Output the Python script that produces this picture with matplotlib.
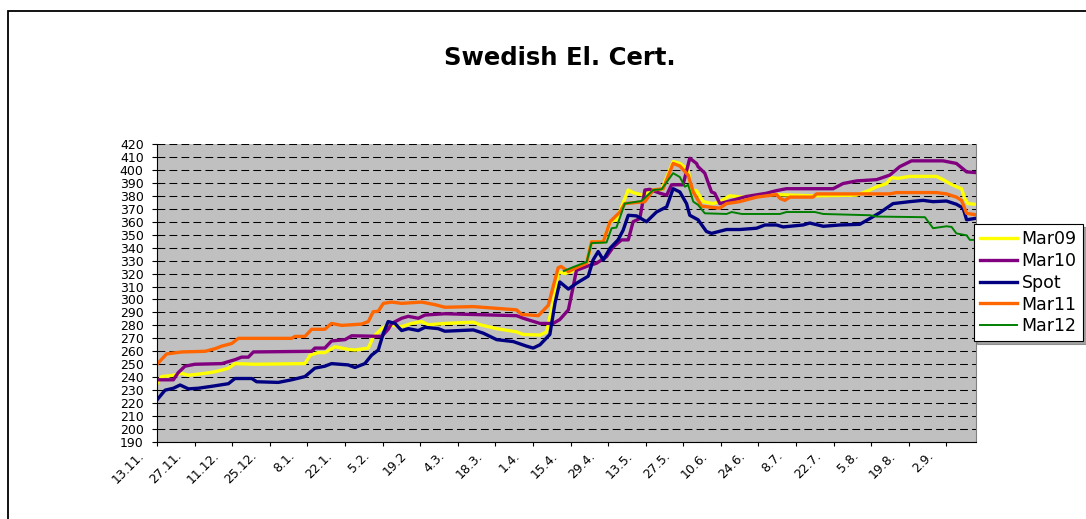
import numpy as np
import matplotlib
matplotlib.use('Agg')
import matplotlib.pyplot as plt
import matplotlib.transforms as mtransforms
from matplotlib.patches import Rectangle

#%% data - days counted from 13.11.2008
date_labels = ['13.11.', '27.11.', '11.12.', '25.12.', '8.1.', '22.1.', '5.2.', '19.2',
               '4.3.', '18.3.', '1.4.', '15.4.', '29.4.', '13.5.', '27.5.', '10.6.',
               '24.6.', '8.7.', '22.7.', '5.8.', '19.8.', '2.9.']
label_days = [14 * i for i in range(len(date_labels))]

mar09 = np.array([
    (0, 235), (1.7, 240.5), (6.1, 241.5), (9.2, 243), (11.7, 241.5), (17.9, 243),
    (21, 244), (24.1, 245.5), (26.6, 247), (29, 250.5), (36.5, 250), (55.1, 250.5),
    (57, 257), (60, 259), (62.5, 259), (66.3, 263.5), (71.2, 261.5), (73.7, 261),
    (78.7, 262.5), (80.5, 271), (83.7, 277.5), (86.1, 280.5), (91.1, 279), (94.8, 281.5),
    (98.5, 283), (101, 280.5), (107.2, 281.5), (117.8, 282.5), (120.3, 280.5), (126.5, 277.5),
    (133.9, 275), (136.4, 273), (142.6, 272.5), (145.1, 275), (148.2, 304.5), (149.4, 321.5),
    (151.9, 320), (154.4, 321.5), (160, 328), (161.8, 344.5), (166.2, 344.5), (168.7, 360),
    (171.1, 361.5), (173, 371.5), (175.5, 384.5), (177.3, 382.5), (181, 380.5), (184.2, 384.5),
    (188, 385), (192.2, 406.5), (194.7, 405), (197.8, 400), (199.1, 384.5), (200.9, 384),
    (203.4, 375.5), (207.1, 374), (209.6, 375.5), (213.3, 380), (218.3, 379), (223.3, 380.5),
    (229.5, 381), (245, 380), (260.5, 380.5), (265.5, 384.5), (268, 387), (271.7, 389.5),
    (273.5, 394), (276, 393.5), (280.3, 395), (290.3, 395), (292.7, 392.5), (295.2, 389.5),
    (297.7, 387), (299.6, 385.5), (300.8, 378), (302, 374), (304.5, 373.5)])

mar10 = np.array([
    (0, 238), (6.1, 238), (7.9, 243.5), (10.4, 248.5), (14.1, 250), (24.1, 250.5),
    (29, 253.5), (31.5, 255.5), (34, 255.5), (35.9, 259.5), (57.6, 260), (58.8, 262.5),
    (62.5, 262.5), (65, 268), (70, 269), (72.5, 272), (83.7, 271.5), (86.1, 277),
    (87.4, 281.5), (91.1, 285.5), (93.6, 287), (97.3, 285.5), (99.8, 288), (107.2, 289),
    (133.9, 287.5), (136.4, 285.5), (142.6, 281.5), (147.5, 281.5), (150, 284.5), (153.2, 292),
    (155, 310), (156.2, 322.5), (160, 325.5), (163.7, 328), (167.4, 333), (169.9, 340.5),
    (173, 346), (175.5, 346), (177.3, 360), (179.8, 362.5), (181.7, 384.5), (183.5, 385),
    (187.3, 382), (189.8, 380.5), (191.6, 388.5), (195.9, 388.5), (198.4, 409), (200.9, 405),
    (201.5, 402.5), (204, 397.5), (206.5, 383), (207.7, 382), (209.6, 374), (213.3, 376),
    (219.5, 379.5), (227, 382), (230.7, 384), (234.4, 385.5), (251.8, 385.5), (255.5, 389.5),
    (260.5, 391.5), (268, 392.5), (272.9, 396), (276.6, 402.5), (281, 407), (292.7, 407),
    (297.7, 405), (301.5, 398.5), (304.5, 398)])

spot = np.array([
    (0, 222.5), (3, 230), (6.1, 231.5), (8.6, 234), (11.7, 231), (15.4, 231.5),
    (20.4, 233), (26.6, 235), (29, 239), (35.3, 239), (37.1, 236.5), (45.2, 236),
    (50.1, 238), (55.1, 240.5), (58.8, 247), (62.5, 248.5), (65, 250.5), (71.2, 249.5),
    (73.7, 247.5), (77.4, 250.5), (79.9, 257), (82.4, 261), (84.3, 274), (86.1, 283),
    (88.6, 281.5), (91.1, 276), (93.6, 277.5), (97.3, 276), (99.8, 278.5), (104.7, 277.5),
    (107.2, 275.5), (117.8, 276.5), (121.5, 274), (126.5, 269), (132.7, 267.5), (137.6, 264),
    (140.1, 262.5), (142.6, 265), (146.3, 273), (148.2, 297), (150, 313.5), (153.2, 308),
    (156.2, 312.5), (160.6, 318), (162.4, 330.5), (164.3, 337), (166.2, 330.5), (168.7, 339.5),
    (171.7, 346), (173.6, 353.5), (175.5, 365), (178.6, 364.5), (182.3, 360), (186, 367.5),
    (189.8, 371.5), (192.2, 385.5), (194.7, 383), (197.2, 374), (198.4, 365), (201.5, 361.5),
    (204.6, 352.5), (206.5, 351), (212.1, 354), (217, 354), (223.3, 355), (226.4, 357.5),
    (230.7, 357.5), (233.2, 356), (240.6, 357.5), (243.1, 359), (248.1, 356.5), (254.3, 357.5),
    (261.7, 358), (265.5, 362.5), (269.2, 367), (274.1, 374), (280.3, 375.5), (285.3, 376.5),
    (289, 375.5), (294, 376), (297.7, 373.5), (300.2, 370.5), (301.5, 361.5), (304.5, 362.5)])

mar11 = np.array([
    (0, 250), (3.6, 258), (9.2, 259.5), (17.9, 260), (21.6, 262), (24.1, 264),
    (27.8, 266), (30.3, 270), (50.1, 270), (51.4, 271.5), (55.1, 271.5), (57.6, 277),
    (62.5, 277), (65, 281.5), (68.8, 280), (76.2, 281), (78.7, 283), (80.5, 290.5),
    (82.4, 291), (84.3, 297), (87.4, 298), (91.1, 297), (98.5, 298), (103.5, 296),
    (107.2, 294), (117.8, 294.5), (133.9, 292), (135.8, 288.5), (142, 287.5), (145.7, 295.5),
    (149.4, 324.5), (150.5, 325.5), (153.2, 321.5), (156.2, 324.5), (160, 328), (161.8, 344.5),
    (166.2, 344.5), (168.7, 360), (172.4, 367.5), (174.2, 374), (181.7, 375.5), (184.8, 384.5),
    (188.5, 385.5), (192.2, 405), (194.7, 403), (197.8, 396), (199.7, 383), (202.8, 372),
    (209.6, 370.5), (212.1, 374), (217, 375.5), (223.3, 379), (230.7, 381), (232, 378),
    (233.8, 376.5), (235.7, 379), (244.3, 379), (245.6, 381.5), (272.9, 381.5), (275.4, 382.5),
    (290.3, 382.5), (294, 381.5), (297.7, 379), (299.6, 376.5), (301.5, 366.5), (304.5, 365.5)])

mar12 = np.array([
    (151.5, 322), (155, 325), (160, 329), (161.8, 343.5), (167.4, 344), (169.3, 355),
    (171.1, 355.5), (174.2, 374), (180.4, 376), (184.8, 384.5), (187.9, 385), (192.2, 397.5),
    (194.7, 394.5), (196.6, 387), (197.8, 388.5), (199.7, 375.5), (201.5, 373), (204, 366.5),
    (212.1, 366), (214, 367.5), (217.7, 366), (232, 366), (234.4, 367.5), (245, 367.5),
    (248.1, 366), (265.5, 365), (268, 364), (286, 363.5), (289, 355), (294, 356.5),
    (295.9, 356), (297.7, 351), (301.5, 349.5), (302.7, 346), (304.5, 346)])

#%% plot
fig = plt.figure(figsize=(10.86, 5.19), dpi=100)
ax = fig.add_axes([157/1086, 77/519, 819/1086, 298/519])
ax.set_facecolor('#C0C0C0')

ax.plot(mar09[:, 0], mar09[:, 1], color='#FFFF00', lw=2.4, label='Mar09')
ax.plot(mar10[:, 0], mar10[:, 1], color='#800080', lw=2.4, label='Mar10')
ax.plot(spot[:, 0], spot[:, 1], color='#000080', lw=2.4, label='Spot')
ax.plot(mar11[:, 0], mar11[:, 1], color='#FF6600', lw=2.4, label='Mar11')
ax.plot(mar12[:, 0], mar12[:, 1], color='#008000', lw=1.4, label='Mar12')

ax.set_xlim(0, 305)
ax.set_ylim(190, 420)
ax.set_yticks(np.arange(190, 421, 10))
ax.set_xticks(label_days)
ax.set_xticklabels(date_labels)

# dashed horizontal grid like the excel sheet
ax.yaxis.grid(True, color='black', lw=0.75, linestyle=(0, (7.5, 4)))
ax.set_axisbelow(True)

ax.spines['top'].set_visible(False)
ax.spines['right'].set_color('#808080')
ax.spines['left'].set_color('black')
ax.spines['bottom'].set_color('black')

ax.tick_params(axis='y', direction='out', length=3.6, width=0.8, pad=6, labelsize=9)
ax.tick_params(axis='x', direction='out', length=3, width=0.8, pad=5.5, labelsize=9)
offset = mtransforms.ScaledTranslation(-0.15, 0, fig.dpi_scale_trans)
for lab in ax.get_xticklabels():
    lab.set_rotation(45)
    lab.set_ha('right')
    lab.set_va('center')
    lab.set_rotation_mode('anchor')
    lab.set_transform(lab.get_transform() + offset)

fig.text(560/1086, 1 - 58/519, 'Swedish El. Cert.', ha='center', va='center',
         fontsize=17.5, fontweight='bold')

leg = ax.legend(loc='upper left', bbox_to_anchor=(974/1086, 1 - 224/519),
                bbox_transform=fig.transFigure, borderaxespad=0, fontsize=12.5,
                fancybox=False, shadow=True, edgecolor='black', framealpha=1,
                handlelength=2.1, handletextpad=0.3, labelspacing=0.22, borderpad=0.35)
leg.get_frame().set_linewidth(0.8)

# outer chart border
fig.patches.append(Rectangle((8/1086, -0.1), 1.2, 1.1 - 11/519, transform=fig.transFigure,
                             fill=False, edgecolor='black', lw=1.3))

fig.savefig('out.png', dpi=100)
